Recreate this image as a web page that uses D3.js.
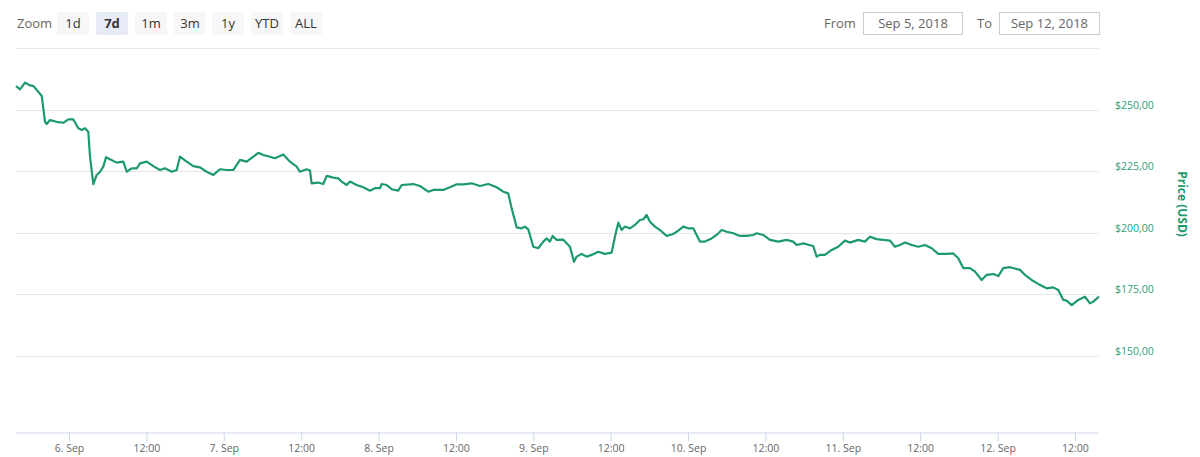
<!DOCTYPE html>
<html><head><meta charset="utf-8">
<script src="https://cdn.jsdelivr.net/npm/d3@7/dist/d3.min.js"></script>
<style>
html,body{margin:0;padding:0;background:#fff;}
svg{display:block;}
text{font-family:"Open Sans","DejaVu Sans",sans-serif;}
</style></head>
<body>
<svg id="chart" width="1200" height="457"></svg>
<script>
// hours since 2018-09-05 00:00 UTC
const hours = [15.89,16.40,17.18,17.95,18.46,19.24,19.77,20.28,20.54,21.05,22.09,23.12,23.89,24.67,25.44,25.97,26.48,26.99,27.26,27.77,28.30,28.81,29.32,29.74,30.36,31.40,32.42,32.95,33.72,34.50,35.01,36.05,37.07,38.11,38.89,39.93,40.70,41.21,42.25,43.27,44.31,45.35,46.38,47.41,48.45,49.48,50.52,51.55,52.58,53.35,54.13,55.17,55.94,57.23,58.27,59.31,59.82,60.86,61.37,61.63,62.66,63.43,63.96,64.98,65.76,66.29,67.06,67.57,68.61,69.63,70.67,71.45,72.22,72.49,73.26,74.04,75.06,75.59,77.39,78.43,79.71,80.49,82.04,83.08,84.12,85.14,86.44,87.73,89.02,90.32,91.34,92.12,92.65,93.42,94.20,94.71,95.22,96.00,96.77,97.55,98.07,98.59,99.00,99.62,100.65,101.69,102.31,102.73,103.50,104.28,105.05,106.08,107.11,108.15,108.66,109.18,109.70,110.21,110.99,111.77,112.54,113.05,113.58,114.09,114.87,115.64,116.68,117.70,118.48,119.25,120.03,120.81,121.33,121.84,122.62,123.66,124.43,125.21,125.99,127.01,128.05,129.09,130.11,130.64,131.66,132.70,133.99,135.29,136.31,136.84,137.86,139.41,139.94,140.45,141.23,142.27,143.29,144.33,145.10,146.39,147.43,148.21,149.25,150.27,151.31,152.09,152.86,153.64,154.68,155.70,156.74,157.78,158.80,160.11,161.13,161.91,162.69,163.72,164.50,165.53,166.31,167.33,168.11,168.88,169.92,171.47,172.24,173.28,174.30,175.61,176.63,177.41,178.19,178.71,179.49,180.51,181.55,182.33,182.84,183.62];
const prices = [259.5,258.4,261.1,260.0,259.8,257.4,255.7,245.2,244.3,245.9,245.2,244.8,246.2,246.2,242.6,241.9,242.6,241.2,231.0,219.9,223.6,224.9,227.0,230.8,230.0,228.6,229.0,224.9,226.3,226.3,228.3,229.0,227.2,225.6,226.3,224.9,225.6,231.0,229.0,227.2,226.7,224.9,223.6,225.9,225.6,225.6,229.7,229.0,231.0,232.6,231.7,231.0,230.4,231.9,229.0,227.0,224.9,225.9,225.4,220.2,220.5,219.9,223.2,222.5,222.2,220.9,219.5,220.9,219.5,218.6,217.2,218.2,218.2,219.9,219.5,217.8,217.2,219.5,219.9,219.1,216.8,217.5,217.5,218.6,219.8,219.8,220.2,219.1,219.9,218.6,216.8,216.1,210.0,202.3,201.9,202.6,201.5,194.4,193.8,196.5,197.8,196.5,198.8,197.2,197.3,194.4,188.3,190.4,191.5,190.4,191.1,192.4,191.5,192.0,198.5,204.2,201.2,202.6,201.9,203.3,205.3,205.6,207.3,204.6,202.6,201.2,198.8,199.6,201.0,202.6,201.9,201.9,199.2,196.5,196.5,197.8,199.2,201.2,200.5,199.9,198.8,198.8,199.2,199.9,199.2,197.2,196.5,197.2,196.5,195.1,195.8,194.7,190.4,191.1,191.1,193.1,194.4,196.9,196.1,197.2,196.5,198.5,197.5,197.2,196.9,194.4,195.1,196.1,195.1,194.4,195.1,193.8,191.5,191.5,191.7,189.7,185.7,185.7,184.3,180.9,183.0,183.3,182.5,185.7,186.1,185.0,183.0,180.9,179.3,177.5,177.9,176.8,172.8,172.5,170.7,172.8,174.1,171.4,172.1,173.9];
const yTickValues = [150,175,200,225,250,275];
const yTickLabels = ["$150,00","$175,00","$200,00","$225,00","$250,00",""];
const zoomButtons = ["1d","7d","1m","3m","1y","YTD","ALL"];
const selectedButton = "7d";
const fromDate = "Sep 5, 2018";
const toDate = "Sep 12, 2018";
const yTitle = "Price (USD)";

const base = Date.UTC(2018,8,5);
const data = hours.map((h,i)=>({t:new Date(base+h*3600e3), p:prices[i]}));

const svg = d3.select("#chart");
const lineColor = "#1c9a6e";
const labelColor = "#2e9e76";
const axisFont = "'DejaVu Sans',Verdana,sans-serif";

const x = d3.scaleUtc().domain(d3.extent(data,d=>d.t)).range([16.7,1098.3]);
const y = d3.scaleLinear().domain([118.7,275.2]).range([433,48]);

// grid
svg.append("g").selectAll("line").data(yTickValues).join("line")
  .attr("x1",16).attr("x2",1099)
  .attr("y1",d=>Math.round(y(d))+0.5).attr("y2",d=>Math.round(y(d))+0.5)
  .attr("stroke","#e6e6e6").attr("stroke-width",1);

// y labels
svg.append("g").selectAll("text").data(yTickValues).join("text")
  .attr("x",1115).attr("y",d=>y(d)-1)
  .attr("font-size",10.5).attr("font-family",axisFont).attr("fill",labelColor)
  .text((d,i)=>yTickLabels[i]);

svg.append("text")
  .attr("transform","translate(1178,204) rotate(90)")
  .attr("text-anchor","middle").attr("font-size",12).attr("font-weight","bold")
  .attr("fill",lineColor).text(yTitle);

// x axis
const xTicks = d3.utcHour.every(12).range(x.domain()[0], x.domain()[1]);
const fmt = d => d.getUTCHours()===0 ? d.getUTCDate()+". Sep" : "12:00";
const xa = svg.append("g").attr("transform","translate(0,432.5)")
  .call(d3.axisBottom(x).tickValues(xTicks).tickFormat(fmt).tickSizeOuter(0).tickSizeInner(9).tickPadding(3));
xa.select(".domain").attr("stroke","#ccd6eb").attr("d","M16,0.5H1099");
xa.selectAll(".tick line").attr("stroke","#ccd6eb");
xa.selectAll(".tick text").attr("fill","#666").attr("font-size",10.5)
  .attr("font-family",axisFont);

// line
const line = d3.line().x(d=>x(d.t)).y(d=>y(d.p)).curve(d3.curveLinear);
svg.append("path").datum(data).attr("d",line)
  .attr("fill","none").attr("stroke",lineColor).attr("stroke-width",2.2)
  .attr("stroke-linejoin","round").attr("stroke-linecap","round");

// range selector
svg.append("text").attr("x",17).attr("y",28).attr("font-size",13).attr("fill","#666").text("Zoom");
const bx = [57,96,135,174,212,251,290];
const bg = svg.append("g").selectAll("g").data(zoomButtons).join("g")
  .attr("transform",(d,i)=>`translate(${bx[i]},12)`);
bg.append("rect").attr("width",32).attr("height",23).attr("rx",2)
  .attr("fill",d=>d===selectedButton?"#e6ebf5":"#f7f7f7");
bg.append("text").attr("x",16).attr("y",16).attr("text-anchor","middle")
  .attr("font-size",13).attr("fill","#333")
  .attr("font-weight",d=>d===selectedButton?"bold":"normal").text(d=>d);

svg.append("text").attr("x",824).attr("y",28).attr("font-size",13).attr("fill","#666").text("From");
svg.append("rect").attr("x",863.5).attr("y",12.5).attr("width",99).attr("height",22)
  .attr("fill","#fff").attr("stroke","#ccc");
svg.append("text").attr("x",913).attr("y",28).attr("text-anchor","middle").attr("font-size",13).attr("fill","#666").text(fromDate);
svg.append("text").attr("x",977).attr("y",28).attr("font-size",13).attr("fill","#666").text("To");
svg.append("rect").attr("x",999.5).attr("y",12.5).attr("width",100).attr("height",22)
  .attr("fill","#fff").attr("stroke","#ccc");
svg.append("text").attr("x",1049.5).attr("y",28).attr("text-anchor","middle").attr("font-size",13).attr("fill","#666").text(toDate);
</script>
</body></html>
